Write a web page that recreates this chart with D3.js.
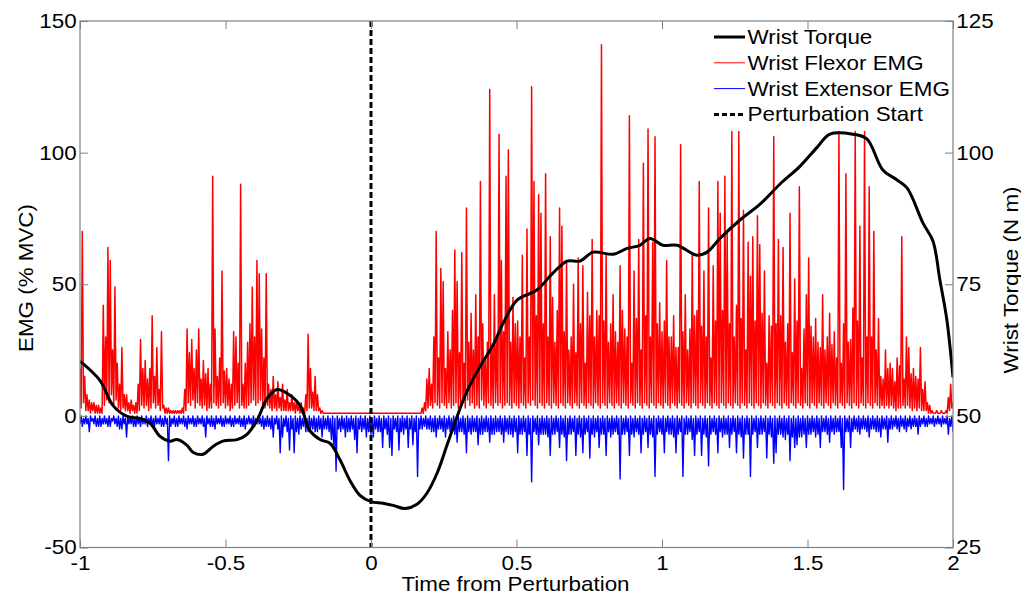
<!DOCTYPE html>
<html>
<head>
<meta charset="utf-8">
<script src="https://cdn.jsdelivr.net/npm/d3@7"></script>
<style>
  html, body { margin: 0; padding: 0; background: #fff; }
  svg { display: block; font-family: "Liberation Sans", Arial, sans-serif; }
</style>
</head>
<body>
<svg id="chart" width="1021" height="596"></svg>
<script>
// Time axis ticks (s) and the two y-axis tick sets
const timeTicks = [-1, -0.5, 0, 0.5, 1, 1.5, 2];
const emgTicks = [-50, 0, 50, 100, 150];
const torqueTicks = [25, 50, 75, 100, 125];

// EMG sampling clock: first sample time and spacing (s)
const emgStart = -1;
const emgStep = 0.004;

// Wrist flexor EMG (% MVC), one value per sample (40 samples per row)
const flexorEMG = [
  18,3,70,5,15,2,8,2,6,1,5,2,5,1,4,1,4,1,3,1,
  42,4,30,6,64,5,59,8,25,4,49,6,20,3,12,2,26,3,8,2,
  8,2,5,1,6,2,4,1,5,1,12,2,29,4,18,3,21,4,14,2,
  18,3,38,5,15,3,26,4,10,2,32,3,4,1,3,1,3,1,2,1,
  2,1,2,1,2,1,2,1,3,1,10,2,33,5,24,4,29,6,18,3,
  25,5,33,4,14,3,21,4,16,2,18,3,12,3,91,5,33,4,15,3,
  22,4,55,5,17,3,18,4,14,2,12,3,32,4,30,5,20,3,88,4,
  12,3,20,3,28,4,35,5,49,6,30,4,59,5,54,6,33,4,22,3,
  54,4,12,3,10,2,15,3,8,2,13,3,7,2,12,2,6,2,10,2,
  5,2,8,2,5,1,6,2,4,1,5,1,3,1,8,2,31,3,18,3,
  9,2,15,2,8,2,3,1,2,1,1,1,1,1,1,1,1,1,1,1,
  1,1,1,1,1,1,1,1,1,1,1,1,1,1,1,1,1,1,1,1,
  1,1,1,1,1,1,1,1,1,1,2,1,1,1,1,1,1,1,1,1,
  1,1,1,1,1,1,1,1,1,1,1,1,1,1,1,1,1,1,1,1,
  1,1,1,1,1,1,1,1,1,1,1,1,1,1,3,1,5,2,14,3,
  18,4,12,3,30,5,70,4,22,3,56,5,51,4,18,3,32,5,25,3,
  40,4,63,5,51,3,24,4,62,5,20,3,79,6,28,4,39,5,25,3,
  46,4,30,3,89,6,35,4,22,3,28,5,124,4,26,3,46,5,30,4,
  107,5,59,3,32,4,91,5,101,4,28,3,45,5,35,4,36,3,30,5,
  61,4,22,3,71,5,30,4,125,6,89,4,38,3,84,5,77,4,35,3,
  92,5,30,4,68,3,45,5,28,4,40,3,79,5,72,4,32,3,59,5,
  25,4,30,3,50,5,24,4,60,3,35,5,57,4,20,3,47,5,38,4,
  67,3,30,5,40,4,38,3,141,5,36,4,61,3,28,5,35,4,46,3,
  32,5,28,4,57,3,40,5,33,4,30,3,114,5,20,4,55,3,37,5,
  67,4,25,3,96,5,38,4,109,3,30,5,66,4,106,3,35,5,43,4,
  32,3,36,5,59,4,30,3,30,5,38,4,26,3,26,5,103,4,32,3,
  46,5,25,4,33,3,62,5,38,4,40,3,89,5,34,4,55,3,30,5,
  79,4,22,3,57,5,36,4,89,3,77,5,40,4,91,3,70,5,35,4,
  108,3,30,5,42,4,108,3,37,5,78,4,25,3,66,5,53,4,68,3,
  36,5,76,4,65,3,39,5,55,4,20,3,38,5,34,4,106,3,35,5,
  67,4,38,3,64,5,28,4,35,3,77,5,24,4,52,3,36,5,87,4,
  18,3,33,5,46,4,60,3,34,5,30,4,37,3,28,5,26,4,46,3,
  25,5,30,4,39,3,27,5,32,4,22,3,108,5,20,4,35,3,92,5,
  28,4,29,3,41,5,108,4,36,3,72,5,22,4,108,3,30,5,87,4,
  30,3,70,5,25,4,37,3,15,4,14,3,25,4,18,3,20,4,18,3,
  13,2,22,3,19,3,68,4,14,3,30,4,26,3,16,2,18,3,15,2,
  14,3,26,2,10,2,13,2,5,1,4,1,2,1,1,1,2,1,1,1,
  2,1,1,1,2,1,7,2,12,3,5
];

// Wrist extensor EMG (% MVC), plotted inverted below zero
const extensorEMG = [
  -3,0,-4,-1,-3,0,-3,-1,-6,0,-2,-1,-3,0,-4,-1,-4,0,-4,-1,
  -3,0,-3,-1,-4,0,-4,-1,-2,0,-3,-1,-4,0,-5,-1,-5,0,-3,-1,
  -8,0,-3,-1,-3,0,-4,-1,-4,0,-3,-1,-4,0,-3,-1,-3,0,-4,-1,
  -3,0,-4,-1,-4,0,-3,-1,-3,0,-4,-1,-4,0,-3,-1,-17,0,-4,-1,
  -3,0,-4,-1,-4,0,-3,-1,-3,0,-4,-1,-5,0,-3,-1,-3,0,-4,-1,
  -4,0,-3,-1,-3,0,-4,-1,-8,0,-3,-1,-4,0,-4,-1,-5,0,-3,-1,
  -3,0,-4,-1,-4,0,-3,-1,-3,0,-4,-1,-4,0,-3,-1,-3,0,-4,-1,
  -4,0,-5,-1,-3,0,-3,-1,-4,0,-4,-1,-3,0,-3,-1,-4,0,-5,-1,
  -4,0,-4,-1,-5,0,-8,-1,-3,0,-5,-1,-14,0,-8,-1,-4,0,-6,-1,
  -13,0,-5,-1,-14,0,-6,-1,-7,0,-5,-1,-4,0,-6,-1,-6,0,-5,-1,
  -5,0,-6,-1,-6,0,-5,-1,-8,0,-5,-1,-5,0,-6,-1,-9,0,-12,-1,
  -21,0,-5,-1,-6,0,-5,-1,-8,0,-6,-1,-6,0,-5,-1,-9,0,-14,-1,
  -5,0,-6,-1,-5,0,-8,-1,-6,0,-7,-1,-8,0,-5,-1,-6,0,-6,-1,
  -12,0,-5,-1,-7,0,-12,-1,-15,0,-5,-1,-6,0,-13,-1,-6,0,-7,-1,
  -5,0,-12,-1,-5,0,-11,-1,-6,0,-23,-1,-5,0,-5,-1,-4,0,-5,-1,
  -5,0,-6,-1,-6,0,-8,-1,-5,0,-5,-1,-6,0,-8,-1,-5,0,-6,-1,
  -6,0,-7,-1,-10,0,-6,-1,-6,0,-7,-1,-14,0,-6,-1,-7,0,-6,-1,
  -6,0,-11,-1,-7,0,-7,-1,-6,0,-6,-1,-10,0,-7,-1,-7,0,-6,-1,
  -6,0,-7,-1,-10,0,-6,-1,-7,0,-7,-1,-8,0,-6,-1,-14,0,-7,-1,
  -7,0,-6,-1,-15,0,-7,-1,-25,0,-6,-1,-7,0,-11,-1,-7,0,-7,-1,
  -7,0,-8,-1,-15,0,-7,-1,-7,0,-6,-1,-12,0,-7,-1,-8,0,-17,-1,
  -7,0,-7,-1,-6,0,-15,-1,-7,0,-8,-1,-14,0,-7,-1,-6,0,-16,-1,
  -7,0,-8,-1,-6,0,-12,-1,-7,0,-7,-1,-15,0,-6,-1,-8,0,-7,-1,
  -6,0,-7,-1,-24,0,-7,-1,-7,0,-6,-1,-15,0,-7,-1,-8,0,-6,-1,
  -7,0,-14,-1,-7,0,-6,-1,-12,0,-7,-1,-8,0,-23,-1,-7,0,-6,-1,
  -7,0,-14,-1,-6,0,-7,-1,-7,0,-8,-1,-14,0,-7,-1,-6,0,-23,-1,
  -7,0,-7,-1,-6,0,-9,-1,-15,0,-7,-1,-6,0,-15,-1,-7,0,-8,-1,
  -19,0,-7,-1,-6,0,-7,-1,-14,0,-6,-1,-8,0,-7,-1,-7,0,-12,-1,
  -7,0,-6,-1,-14,0,-7,-1,-8,0,-16,-1,-7,0,-7,-1,-23,0,-7,-1,
  -6,0,-12,-1,-7,0,-7,-1,-6,0,-16,-1,-7,0,-8,-1,-18,0,-14,-1,
  -7,0,-7,-1,-8,0,-9,-1,-7,0,-17,-1,-8,0,-12,-1,-11,0,-8,-1,
  -8,0,-7,-1,-12,0,-7,-1,-7,0,-6,-1,-8,0,-7,-1,-12,0,-6,-1,
  -6,0,-7,-1,-10,0,-6,-1,-7,0,-6,-1,-6,0,-12,-1,-28,0,-6,-1,
  -6,0,-12,-1,-6,0,-5,-1,-6,0,-7,-1,-5,0,-5,-1,-6,0,-8,-1,
  -5,0,-5,-1,-6,0,-6,-1,-8,0,-5,-1,-5,0,-10,-1,-5,0,-5,-1,
  -4,0,-5,-1,-6,0,-4,-1,-5,0,-6,-1,-4,0,-5,-1,-4,0,-4,-1,
  -7,0,-4,-1,-3,0,-4,-1,-4,0,-3,-1,-3,0,-4,-1,-3,0,-3,-1,
  -4,0,-3,-1,-3,0,-7,-1,-4,0,-6
];

// Wrist torque (N m) against time (s)
const torqueTime = [
  -1.000,-0.931,-0.887,-0.838,-0.794,-0.759,-0.725,-0.691,-0.667,-0.632,
  -0.612,-0.577,-0.543,-0.509,-0.460,-0.426,-0.392,-0.357,-0.323,-0.289,
  -0.244,-0.210,-0.175,-0.141,-0.107,-0.072,-0.038,0.000,0.041,0.076,
  0.117,0.158,0.192,0.227,0.261,0.296,0.330,0.375,0.419,0.454,
  0.502,0.570,0.625,0.674,0.718,0.763,0.832,0.880,0.924,
  0.959,1.003,1.052,1.120,1.155,1.199,1.268,1.337,1.405,1.474,
  1.533,1.577,1.656,1.704,1.759,1.808,1.842,1.897,1.931,1.955,
  1.979,2.000
];
const torqueValue = [
  60.4,56.7,52.0,49.9,49.5,48.6,46.1,45.2,45.5,44.4,
  43.1,42.7,44.2,45.2,45.5,46.5,49.1,53.3,55.0,54.3,
  52.0,47.2,45.5,44.8,41.7,37.7,34.9,33.7,33.4,33.0,
  32.4,33.2,35.3,39.1,44.4,49.9,54.7,59.4,63.4,67.6,
  72.0,73.9,77.1,79.4,79.4,81.1,80.7,81.8,82.4,
  83.7,82.4,82.4,80.5,81.1,83.7,87.2,90.2,94.0,97.4,
  101.0,103.5,103.5,102.6,96.7,94.8,93.3,86.6,83.2,75.8,
  68.2,57.3
];

const perturbationTime = 0;

const legendItems = [
  { label: "Wrist Torque", color: "#000", width: 3, dash: null },
  { label: "Wrist Flexor EMG", color: "#ff0000", width: 1, dash: null },
  { label: "Wrist Extensor EMG", color: "#0000ff", width: 1, dash: null },
  { label: "Perturbation Start", color: "#000", width: 3, dash: "5,3" }
];

// ---- layout ----
const plot = { left: 80, right: 953, top: 21, bottom: 547.5 };
const fontSize = 20;
const stretch = 1.12;   // the typeface is drawn a little wide
const axisGray = "#808080";
const tickText = d => String(d);   // plain hyphen for negatives

const svg = d3.select("#chart");

const x = d3.scaleLinear().domain([-1, 2]).range([plot.left, plot.right]);
const yEmg = d3.scaleLinear().domain([-50, 150]).range([plot.bottom, plot.top]);
const yTorque = d3.scaleLinear().domain([25, 125]).range([plot.bottom, plot.top]);

svg.append("defs").append("clipPath").attr("id", "plotClip")
  .append("rect")
  .attr("x", plot.left).attr("y", plot.top)
  .attr("width", plot.right - plot.left).attr("height", plot.bottom - plot.top);

const layer = svg.append("g").attr("clip-path", "url(#plotClip)");

const emgLine = d3.line()
  .x((d, i) => x(emgStart + i * emgStep))
  .y(d => yEmg(d));

layer.append("path")
  .datum(flexorEMG)
  .attr("d", emgLine)
  .attr("fill", "none")
  .attr("stroke", "#ff0000")
  .attr("stroke-width", 1.5)
  .attr("stroke-linejoin", "round");

layer.append("path")
  .datum(extensorEMG)
  .attr("d", emgLine)
  .attr("fill", "none")
  .attr("stroke", "#0000ff")
  .attr("stroke-width", 1.4)
  .attr("stroke-linejoin", "round");

const torqueLine = d3.line()
  .x(d => x(d[0]))
  .y(d => yTorque(d[1]))
  .curve(d3.curveCatmullRom.alpha(0.5));

layer.append("path")
  .datum(d3.zip(torqueTime, torqueValue))
  .attr("d", torqueLine)
  .attr("fill", "none")
  .attr("stroke", "#000")
  .attr("stroke-width", 3)
  .attr("stroke-linejoin", "round");

layer.append("line")
  .attr("x1", x(perturbationTime)).attr("x2", x(perturbationTime))
  .attr("y1", plot.top).attr("y2", plot.bottom)
  .attr("stroke", "#000")
  .attr("stroke-width", 3)
  .attr("stroke-dasharray", "6,3");

// ---- axes (ticks point inward) ----
function styleAxis(g) {
  g.select(".domain").remove();
  g.selectAll(".tick line").attr("stroke", axisGray);
  g.selectAll(".tick text")
    .attr("fill", "#000")
    .style("font-size", fontSize + "px")
    .style("font-family", "'Liberation Sans', Arial, sans-serif");
}

svg.append("g")
  .attr("transform", `translate(0,${plot.bottom})`)
  .call(d3.axisBottom(x).tickValues(timeTicks).tickFormat(tickText).tickSize(-8).tickSizeOuter(0).tickPadding(8))
  .call(styleAxis)
  .call(g => g.selectAll(".tick text").attr("transform", `scale(${stretch},1)`));

svg.append("g")
  .attr("transform", `translate(0,${plot.top})`)
  .call(d3.axisTop(x).tickValues(timeTicks).tickFormat("").tickSize(-8).tickSizeOuter(0))
  .call(styleAxis);

svg.append("g")
  .attr("transform", `translate(${plot.left},0)`)
  .call(d3.axisLeft(yEmg).tickValues(emgTicks).tickFormat(tickText).tickSize(-8).tickSizeOuter(0).tickPadding(3))
  .call(styleAxis)
  .call(g => g.selectAll(".tick text").attr("transform", `scale(${stretch},1)`));

svg.append("g")
  .attr("transform", `translate(${plot.right},0)`)
  .call(d3.axisRight(yTorque).tickValues(torqueTicks).tickFormat(tickText).tickSize(-8).tickSizeOuter(0).tickPadding(3))
  .call(styleAxis)
  .call(g => g.selectAll(".tick text").attr("transform", `scale(${stretch},1)`));

// box around the plot
svg.append("rect")
  .attr("x", plot.left).attr("y", plot.top)
  .attr("width", plot.right - plot.left).attr("height", plot.bottom - plot.top)
  .attr("fill", "none")
  .attr("stroke", axisGray)
  .attr("stroke-width", 1.2);

// ---- axis titles ----
function title(tx, ty, rot, text) {
  svg.append("g")
    .attr("transform", `translate(${tx},${ty}) rotate(${rot}) scale(${stretch},1)`)
    .append("text")
    .attr("text-anchor", "middle")
    .attr("fill", "#000")
    .style("font-size", fontSize + "px")
    .text(text);
}
title(515.5, 591, 0, "Time from Perturbation");
title(33, 278, -90, "EMG (% MVC)");
title(1018, 280, -90, "Wrist Torque (N m)");

// ---- legend ----
const legend = svg.append("g");
legendItems.forEach((item, k) => {
  const ly = 37 + k * 25.8;
  legend.append("line")
    .attr("x1", 714).attr("x2", 745)
    .attr("y1", ly).attr("y2", ly)
    .attr("stroke", item.color)
    .attr("stroke-width", item.width)
    .attr("stroke-dasharray", item.dash);
  legend.append("g")
    .attr("transform", `translate(747.5,${ly}) scale(${stretch},1)`)
    .append("text")
    .attr("dy", "0.35em")
    .attr("fill", "#000")
    .style("font-size", fontSize + "px")
    .text(item.label);
});
</script>
</body>
</html>
